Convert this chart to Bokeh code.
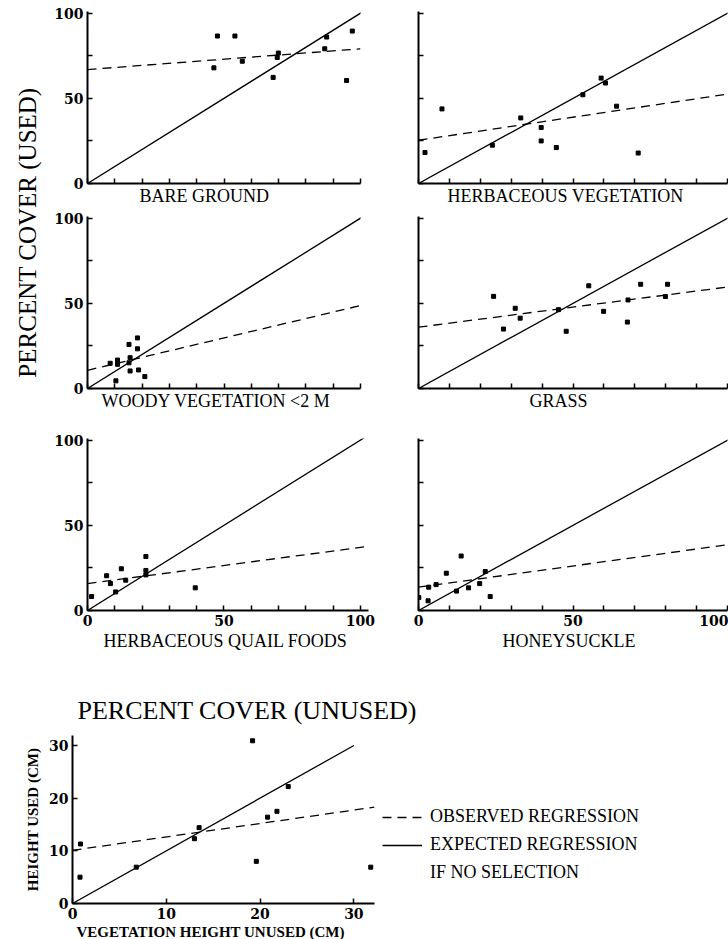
import math
from bokeh.plotting import figure
from bokeh.layouts import row, column
from bokeh.models import FixedTicker, Label, Legend, LegendItem, Range1d, Title
from bokeh.embed import file_html
from bokeh.resources import INLINE

# ---------------- data ----------------
bare_x = [47.6, 54.0, 46.3, 56.7, 68.0, 69.9, 69.5, 87.6, 86.9, 97.0, 94.9]
bare_y = [86.6, 86.6, 67.9, 71.8, 62.3, 76.6, 74.0, 86.0, 79.1, 89.5, 60.5]
bare_obs_x = [0, 100]
bare_obs_y = [66.9, 79.1]

herb_x = [2.1, 7.6, 23.9, 33.1, 39.7, 39.7, 44.6, 53.2, 59.1, 60.5, 64.1, 71.1]
herb_y = [18.2, 43.8, 22.5, 38.5, 32.9, 25.0, 21.1, 52.1, 61.9, 59.0, 45.4, 17.9]
herb_obs_x = [0, 100]
herb_obs_y = [25.4, 52.5]

woody_x = [8.3, 11.0, 11.0, 10.4, 15.2, 15.6, 15.2, 15.6, 18.3, 18.3, 18.7, 21.0]
woody_y = [14.8, 16.7, 14.2, 4.5, 25.9, 18.1, 15.1, 10.3, 29.7, 23.3, 10.9, 7.0]
woody_obs_x = [0, 100]
woody_obs_y = [10.7, 48.7]

grass_x = [24.3, 27.5, 31.3, 32.9, 45.3, 47.8, 55.1, 59.9, 67.8, 67.6, 71.9, 79.9, 80.6]
grass_y = [54.1, 34.9, 47.1, 41.3, 46.3, 33.6, 60.3, 45.3, 52.0, 39.0, 61.2, 54.0, 61.2]
grass_obs_x = [0, 100]
grass_obs_y = [36.0, 59.6]

quail_x = [1.5, 7.0, 8.4, 10.3, 12.4, 14.0, 21.4, 21.4, 21.4, 39.5]
quail_y = [8.2, 20.4, 15.8, 10.9, 24.5, 17.8, 31.7, 23.5, 20.9, 13.3]
quail_obs_x = [0, 104]
quail_obs_y = [15.8, 37.9]

honey_x = [0.1, 3.1, 3.3, 5.7, 9.0, 12.3, 13.8, 16.2, 19.8, 21.6, 23.2]
honey_y = [7.6, 5.7, 13.7, 15.2, 21.9, 11.4, 32.0, 13.3, 15.8, 22.9, 8.2]
honey_obs_x = [0, 100]
honey_obs_y = [13.7, 38.6]

pct_exp_x = [0, 110]
pct_exp_y = [0, 110]

height_x = [19.2, 23.0, 20.8, 21.8, 13.5, 13.0, 0.85, 0.8, 6.8, 19.6, 31.8]
height_y = [30.9, 22.2, 16.4, 17.5, 14.4, 12.3, 11.3, 5.0, 6.9, 8.0, 6.9]
height_obs_x = [0, 32.2]
height_obs_y = [10.1, 18.3]
height_exp_x = [0, 30]
height_exp_y = [0, 30]

pct_major = [0, 50, 100]
pct_minor = [25, 75]
pct_x_minor = [10, 20, 30, 40, 60, 70, 80, 90]
height_ticks = [0, 10, 20, 30]

legend_labels = ["OBSERVED REGRESSION", "EXPECTED REGRESSION", "IF NO SELECTION"]
panel_titles = ["BARE GROUND", "HERBACEOUS VEGETATION", "WOODY VEGETATION <2 M",
                "GRASS", "HERBACEOUS QUAIL FOODS", "HONEYSUCKLE"]

SERIF = "Liberation Serif"
TICKF = "DejaVu Serif"
DASH = "9 6"


def style_axis(ax, major, minor, show_labels):
    if show_labels:
        ax.ticker = FixedTicker(ticks=major, minor_ticks=minor)
    else:
        ax.ticker = FixedTicker(ticks=[], minor_ticks=sorted(major + minor))
    ax.axis_line_width = 2
    ax.axis_line_color = "black"
    ax.major_tick_in = 5
    ax.major_tick_out = 0
    ax.minor_tick_in = 5
    ax.minor_tick_out = 0
    ax.major_tick_line_width = 1.5
    ax.minor_tick_line_width = 1.5
    ax.major_tick_line_color = "black"
    ax.minor_tick_line_color = "black"
    ax.major_label_text_font = TICKF
    ax.major_label_text_font_style = "bold"
    ax.major_label_text_font_size = "14px"
    ax.major_label_text_color = "black"
    ax.major_label_standoff = 4


def panel(w, h, bl, br, bt, bb, xmax, ymax, xs, ys, ox, oy, ex, ey,
          xmaj, xmin, ymaj, ymin, show_x, show_y, title, toff, tsize="18px",
          tstyle="normal"):
    p = figure(width=w, height=h, x_range=Range1d(0, xmax), y_range=Range1d(0, ymax),
               output_backend="svg", toolbar_location=None,
               min_border_left=bl, min_border_right=br,
               min_border_top=bt, min_border_bottom=bb)
    p.grid.visible = False
    p.outline_line_color = None
    style_axis(p.xaxis[0], xmaj, xmin, show_x)
    style_axis(p.yaxis[0], ymaj, ymin, show_y)
    p.line(ex, ey, line_color="black", line_width=1.3)
    p.line(ox, oy, line_color="black", line_width=1.3, line_dash=DASH)
    p.scatter(xs, ys, marker="square", size=4, color="black")
    p.add_layout(Title(text=title, align="left", offset=toff, standoff=0,
                       text_font=SERIF, text_font_size=tsize, text_font_style=tstyle,
                       text_color="black"), "below")
    return p


# row 1  (page y 0..205)
p1 = panel(347, 205, 39, 35, 11, 22, 100, 101, bare_x, bare_y, bare_obs_x, bare_obs_y,
           pct_exp_x, pct_exp_y, pct_major, pct_x_minor, pct_major, pct_minor,
           False, True, panel_titles[0], 52)
p2 = panel(333, 205, 23, 1, 11, 22, 100, 101, herb_x, herb_y, herb_obs_x, herb_obs_y,
           pct_exp_x, pct_exp_y, pct_major, pct_x_minor, pct_major, pct_minor,
           False, False, panel_titles[1], 29)
# row 2  (page y 205..410)
p3 = panel(347, 205, 39, 35, 11, 22, 100, 101, woody_x, woody_y, woody_obs_x, woody_obs_y,
           pct_exp_x, pct_exp_y, pct_major, pct_x_minor, pct_major, pct_minor,
           False, True, panel_titles[2], 14)
p4 = panel(333, 205, 23, 1, 11, 22, 100, 101, grass_x, grass_y, grass_obs_x, grass_obs_y,
           pct_exp_x, pct_exp_y, pct_major, pct_x_minor, pct_major, pct_minor,
           False, False, panel_titles[3], 111)
# row 3  (page y 410..660)
p5 = panel(347, 250, 39, 27, 28, 50, 103, 101, quail_x, quail_y, quail_obs_x, quail_obs_y,
           pct_exp_x, pct_exp_y, pct_major, pct_x_minor, pct_major, pct_minor,
           True, True, panel_titles[4], 16)
p6 = panel(333, 250, 23, 1, 28, 50, 100, 101, honey_x, honey_y, honey_obs_x, honey_obs_y,
           pct_exp_x, pct_exp_y, pct_major, pct_x_minor, pct_major, pct_minor,
           True, False, panel_titles[5], 84)

# vertical shared label
lab = figure(width=48, height=660, x_range=Range1d(0, 48), y_range=Range1d(0, 660),
             x_axis_type=None, y_axis_type=None, min_border=0,
             output_backend="svg", toolbar_location=None)
lab.grid.visible = False
lab.outline_line_color = None
lab.add_layout(Label(x=27, y=428, text="PERCENT COVER (USED)", angle=math.pi / 2,
                     text_align="center", text_baseline="middle", text_font=SERIF,
                     text_font_size="25px", text_color="black"))

# middle shared x label (page y 660..728)
mid = figure(width=728, height=68, x_range=Range1d(0, 728), y_range=Range1d(0, 68),
             x_axis_type=None, y_axis_type=None, min_border=0,
             output_backend="svg", toolbar_location=None)
mid.grid.visible = False
mid.outline_line_color = None
mid.add_layout(Label(x=77, y=18, text="PERCENT COVER (UNUSED)", text_align="left",
                     text_baseline="middle", text_font=SERIF, text_font_size="26px",
                     text_color="black"))

# bottom panel (page y 728..939, x 0..378)
p7 = panel(378, 211, 72, 4, 7, 36, 32.2, 31.9, height_x, height_y,
           height_obs_x, height_obs_y, height_exp_x, height_exp_y,
           height_ticks, [], height_ticks, [], True, True,
           "VEGETATION HEIGHT UNUSED (CM)", 4, "15px", "bold")
p7.yaxis[0].axis_label = "HEIGHT USED (CM)"
p7.yaxis[0].axis_label_text_font = SERIF
p7.yaxis[0].axis_label_text_font_style = "bold"
p7.yaxis[0].axis_label_text_font_size = "15px"
p7.yaxis[0].axis_label_text_color = "black"
p7.yaxis[0].axis_label_standoff = 5

# legend panel (page x 378..728); its frame lines up with the bottom panel's frame.
# Its ranges lie far outside the data, so the lines below only feed the legend glyphs.
lg = figure(width=350, height=211, x_range=Range1d(1000, 1001), y_range=Range1d(1000, 1001),
            x_axis_type=None, y_axis_type=None, min_border=0,
            output_backend="svg", toolbar_location=None)
lg.grid.visible = False
lg.outline_line_color = None
r_obs = lg.line(height_obs_x, height_obs_y, line_color="black", line_width=1.3,
                line_dash=DASH)
r_exp = lg.line(height_exp_x, height_exp_y, line_color="black", line_width=1.3)
r_sel = lg.line(height_exp_x, height_exp_y, line_color="black", line_alpha=0)
legend = Legend(items=[LegendItem(label=legend_labels[0], renderers=[r_obs]),
                       LegendItem(label=legend_labels[1], renderers=[r_exp]),
                       LegendItem(label=legend_labels[2], renderers=[r_sel])],
                location=(4, 20), glyph_width=40, glyph_height=20, label_height=20,
                spacing=7, padding=0, margin=0, label_standoff=8,
                border_line_color=None, background_fill_alpha=0,
                label_text_font=SERIF, label_text_font_size="18px",
                label_text_color="black")
lg.add_layout(legend)

layout = column(row(lab, column(row(p1, p2), row(p3, p4), row(p5, p6))),
                mid, row(p7, lg))

open("out.html", "w").write(file_html(layout, INLINE))
